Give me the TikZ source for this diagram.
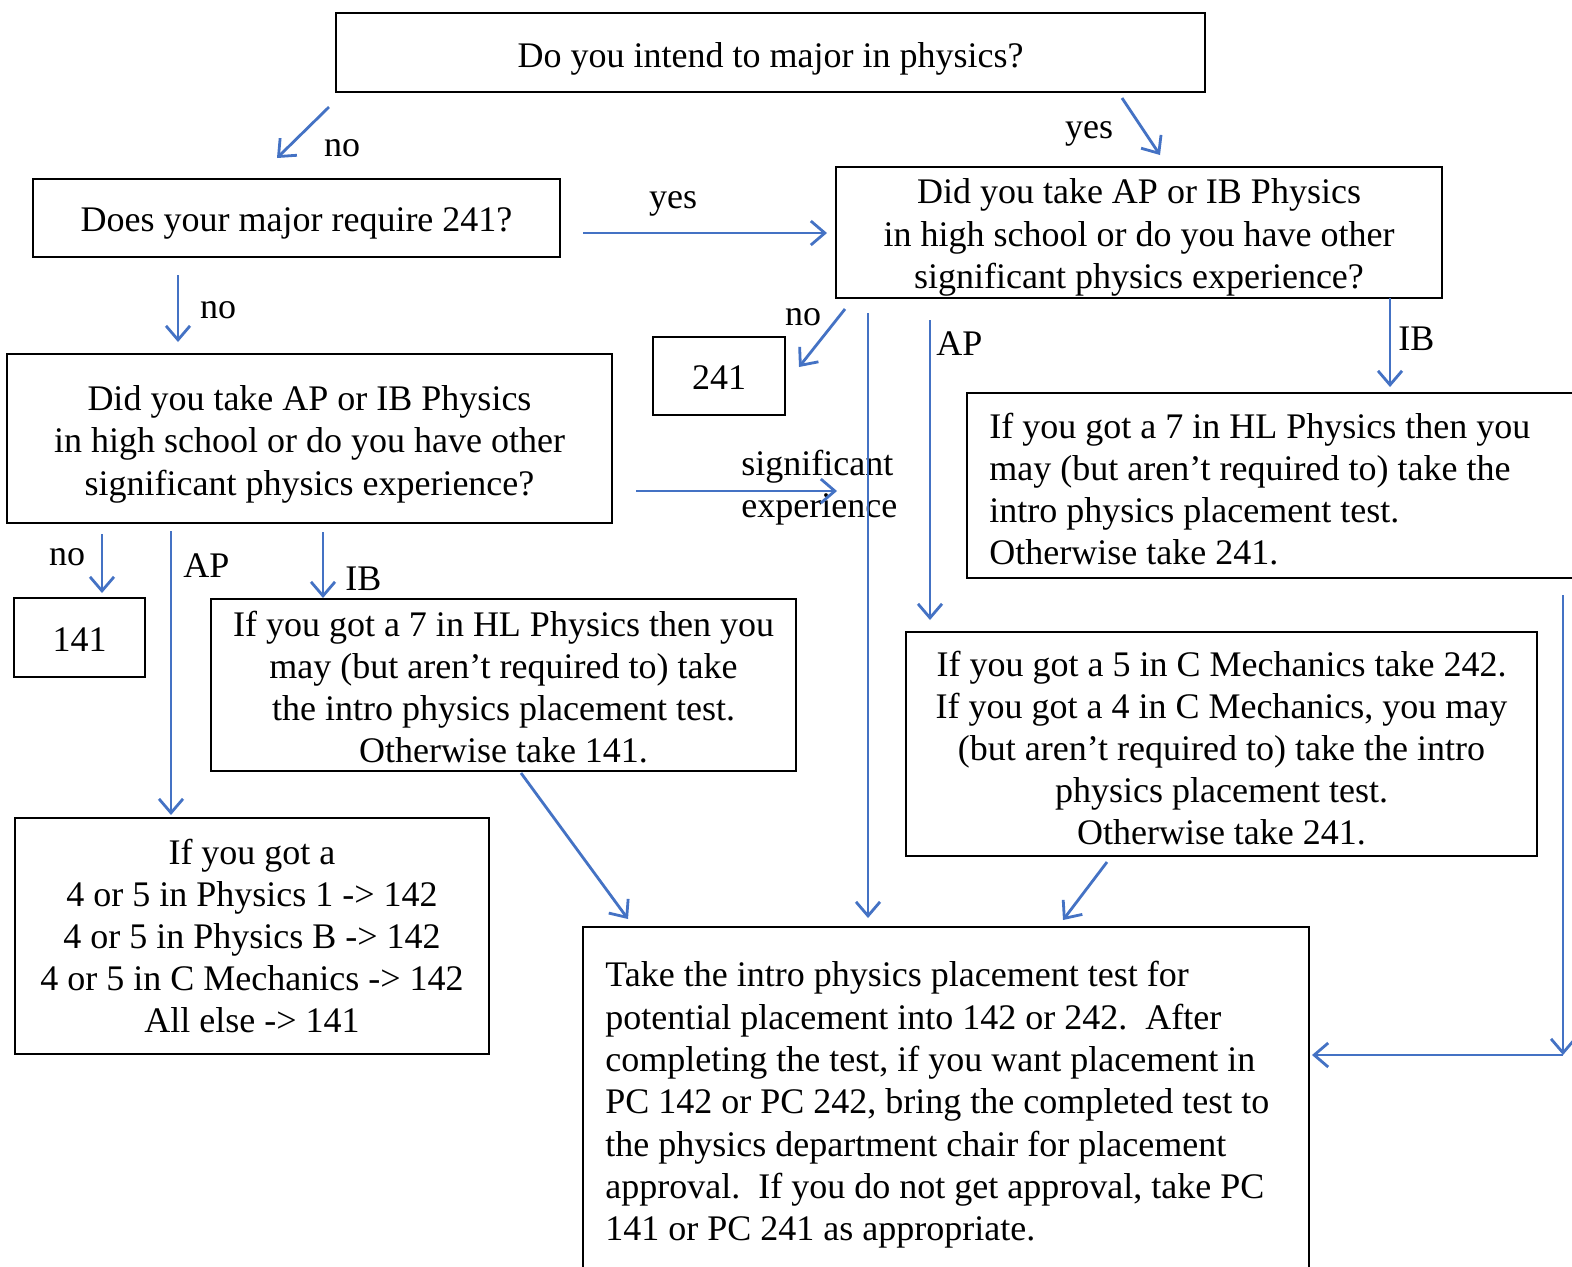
\documentclass[tikz,border=0pt]{standalone}
\usepackage{fontspec}
\setmainfont{Liberation Serif}
\usetikzlibrary{arrows.meta}
\definecolor{arr}{RGB}{68,114,196}
\newcommand\myfs{\fontsize{18pt}{21pt}\selectfont}
\begin{document}
\begin{tikzpicture}[x=0.5pt,y=-0.5pt,
  box/.style={draw=black,line width=1pt,inner sep=0pt},
  txt/.style={font=\myfs,inner sep=0pt,align=center},
  lab/.style={font=\myfs,inner sep=0pt},
  conn/.style={draw=arr,line width=1.4pt,-{Straight Barb[length=7pt,width=12pt]}}]
\useasboundingbox (0,0) rectangle (1572,1266);
\clip (0,0) rectangle (1572,1266);
\fill[white] (0,0) rectangle (1572,1266);

% boxes
\node[box,minimum width=434.5pt,minimum height=39.5pt] (top) at (770.5,52.5) {};
\node[box,minimum width=263.5pt,minimum height=39pt] (req) at (296.5,218) {};
\node[box,minimum width=303pt,minimum height=65.5pt] (rq) at (1139,232.5) {};
\node[box,minimum width=302.5pt,minimum height=84.5pt] (lq) at (309.5,438.5) {};
\node[box,minimum width=66pt,minimum height=39pt] (c241) at (719,376) {};
\node[box,minimum width=65.5pt,minimum height=39.5pt] (c141) at (79.5,637.5) {};
\node[box,minimum width=292.5pt,minimum height=86pt] (lib) at (503.5,685) {};
\node[box,minimum width=237pt,minimum height=118pt] (lap) at (252,936) {};
\node[box,minimum width=316.5pt,minimum height=92.5pt] (rib) at (1283.5,485.5) {};
\node[box,minimum width=315.5pt,minimum height=112pt] (rap) at (1221.5,744) {};
\node[box,minimum width=363pt,minimum height=172pt] (bot) at (946,1099) {};

% box texts
\node[txt] (topT) at (770.5,58.5) {Do you intend to major in physics?};
\node[txt] (reqT) at (296.5,223) {Does your major require 241?};
\node[txt,font=\fontsize{18pt}{21.4pt}\selectfont] (rqT) at (1139,237.5) {Did you take AP or IB Physics\\in high school or do you have other\\significant physics experience?};
\node[txt,font=\fontsize{18pt}{21.3pt}\selectfont] (lqT) at (309.5,444) {Did you take AP or IB Physics\\in high school or do you have other\\significant physics experience?};
\node[txt] (c241T) at (719,378) {241};
\node[txt] (c141T) at (79.5,639.5) {141};
\node[txt] (libT) at (503.5,687.5) {If you got a 7 in HL Physics then you\\may (but aren’t required to) take\\the intro physics placement test.\\Otherwise take 141.};
\node[txt] (lapT) at (252,936) {If you got a\\4 or 5 in Physics 1 -> 142\\4 or 5 in Physics B -> 142\\4 or 5 in C Mechanics -> 142\\All else -> 141};
\node[txt,align=left,anchor=west] (ribT) at (989,489.5) {If you got a 7 in HL Physics then you\\may (but aren’t required to) take the\\intro physics placement test.\\Otherwise take 241.};
\node[txt] (rapT) at (1221.5,748) {If you got a 5 in C Mechanics take 242.\\If you got a 4 in C Mechanics, you may\\(but aren’t required to) take the intro\\physics placement test.\\Otherwise take 241.};
\node[txt,align=left,anchor=west,font=\fontsize{18pt}{21.15pt}\selectfont] (botT) at (605,1105) {Take the intro physics placement test for\\potential placement into 142 or 242.\ \ After\\completing the test, if you want placement in\\PC 142 or PC 242, bring the completed test to\\the physics department chair for placement\\approval.\ \ If you do not get approval, take PC\\141 or PC 241 as appropriate.};

% labels
\node[lab,anchor=base] (lno1) at (342,156) {no};
\node[lab,anchor=base] (lyes1) at (1089,138) {yes};
\node[lab,anchor=base] (lyes2) at (673,208) {yes};
\node[lab,anchor=base] (lno2) at (218,318) {no};
\node[lab,anchor=base] (lno3) at (803,325) {no};
\node[lab,anchor=base west] (lap1) at (936,355) {AP};
\node[lab,anchor=base west] (lib1) at (1398,350) {IB};
\node[lab,anchor=base west] (lsig) at (741,475) {significant};
\node[lab,anchor=base west] (lexp) at (741,517) {experience};
\node[lab,anchor=base] (lno4) at (67,565) {no};
\node[lab,anchor=base west] (lap2) at (183,577) {AP};
\node[lab,anchor=base west] (lib2) at (345,590) {IB};

% connector end points
\coordinate (a1) at (329,107); \coordinate (a2) at (277,158);
\coordinate (b1) at (1122,98); \coordinate (b2) at (1160,155);
\coordinate (c1) at (583,233); \coordinate (c2) at (827,233);
\coordinate (d1) at (178,275); \coordinate (d2) at (178,342);
\coordinate (e1) at (845,309); \coordinate (e2) at (799,367);
\coordinate (f1) at (868,313); \coordinate (f2) at (868,918);
\coordinate (g1) at (930,320); \coordinate (g2) at (930,620);
\coordinate (h1) at (1390,298); \coordinate (h2) at (1390,387);
\coordinate (i1) at (102,534); \coordinate (i2) at (102,593);
\coordinate (j1) at (171,531); \coordinate (j2) at (171,815);
\coordinate (k1) at (323,532); \coordinate (k2) at (323,598);
\coordinate (l1) at (521,773); \coordinate (l2) at (628,919);
\coordinate (m1) at (1107,862); \coordinate (m2) at (1063,920);
\coordinate (n1) at (1563,595); \coordinate (n2) at (1563,1055);
\coordinate (o1) at (1563,1055); \coordinate (o2) at (1312,1055);
\coordinate (s1) at (636,491); \coordinate (s2) at (837,491);

\draw[conn] (a1) -- (a2);
\draw[conn] (b1) -- (b2);
\draw[conn] (c1) -- (c2);
\draw[conn] (d1) -- (d2);
\draw[conn] (e1) -- (e2);
\draw[conn] (f1) -- (f2);
\draw[conn] (g1) -- (g2);
\draw[conn] (h1) -- (h2);
\draw[conn] (i1) -- (i2);
\draw[conn] (j1) -- (j2);
\draw[conn] (k1) -- (k2);
\draw[conn] (l1) -- (l2);
\draw[conn] (m1) -- (m2);
\draw[conn] (n1) -- (n2);
\draw[conn] (o1) -- (o2);
\draw[conn] (s1) -- (s2);
\end{tikzpicture}
\end{document}
